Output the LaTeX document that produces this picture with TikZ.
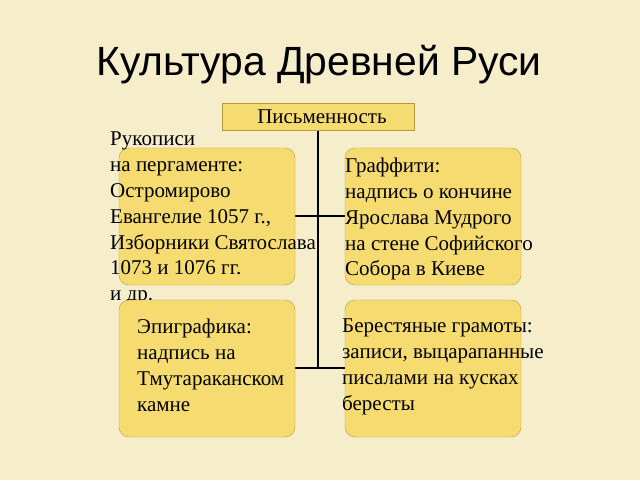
\documentclass[tikz,border=0pt]{standalone}
\usepackage{fontspec}
\setmainfont{Liberation Serif}
\newfontfamily\titlefont{Liberation Sans}
\definecolor{bgpaper}{HTML}{F6EDCB}
\definecolor{boxfill}{HTML}{F6DC70}
\definecolor{boxline}{HTML}{B89A3A}
\begin{document}
\begin{tikzpicture}[x=1pt,y=-1pt,
        boxdecorate/.style={draw=boxline,fill=boxfill,rounded corners=10pt},
        textdecorate/.style={anchor=north west,inner sep=0pt,align=left,
          font=\fontsize{21}{25.8}\selectfont},
        linedecorate/.style={-,line width=1.5pt}]
  \fill[bgpaper] (0,0) rectangle (640,480);
  \useasboundingbox (0,0) rectangle (640,480);
  \node (title) at (319,65) {\titlefont\fontsize{40.8}{44}\selectfont Культура Древней Руси};
  %% top box and connectors
  \node (top) [draw=boxline,fill=boxfill,minimum width=192pt,minimum height=27pt,
    font=\fontsize{21}{24}\selectfont] at (318,117) {\hspace*{8pt}Письменность};
  \coordinate (mid) at (318,368);
  \coordinate (upl) at (294,216); \coordinate (upr) at (345,216);
  \coordinate (lol) at (294,368); \coordinate (lor) at (345,368);
  \draw[linedecorate] (top.south) -- (mid);
  \draw[linedecorate] (upl) -- (upr);
  \draw[linedecorate] (lol) -- (lor);
  %% upper boxes
  \foreach \boxname/\x in {manuscripts/119, graffiti/345}
  {
    \path[boxdecorate] (\x,148) rectangle ++(176,137);
  }
  \node (manutext) [textdecorate] at (110,132) {Рукописи\\на пергаменте:\\Остромирово\\Евангелие 1057 г.,\\Изборники Святослава\\1073 и 1076 гг.\\и др.};
  \node (graftext) [textdecorate] at (345,158) {Граффити:\\надпись о кончине\\Ярослава Мудрого\\на стене Софийского\\Собора в Киеве};
  %% lower boxes
  \foreach \boxname/\x in {epigraphy/119, birchbark/345}
  {
    \path[boxdecorate] (\x,300) rectangle ++(176,137);
  }
  \node (epitext) [textdecorate] at (137,319) {Эпиграфика:\\надпись на\\Тмутараканском\\камне};
  \node (birchtext) [textdecorate] at (342,319) {Берестяные грамоты:\\записи, выцарапанные\\писалами на кусках\\бересты};
\end{tikzpicture}
\end{document}
